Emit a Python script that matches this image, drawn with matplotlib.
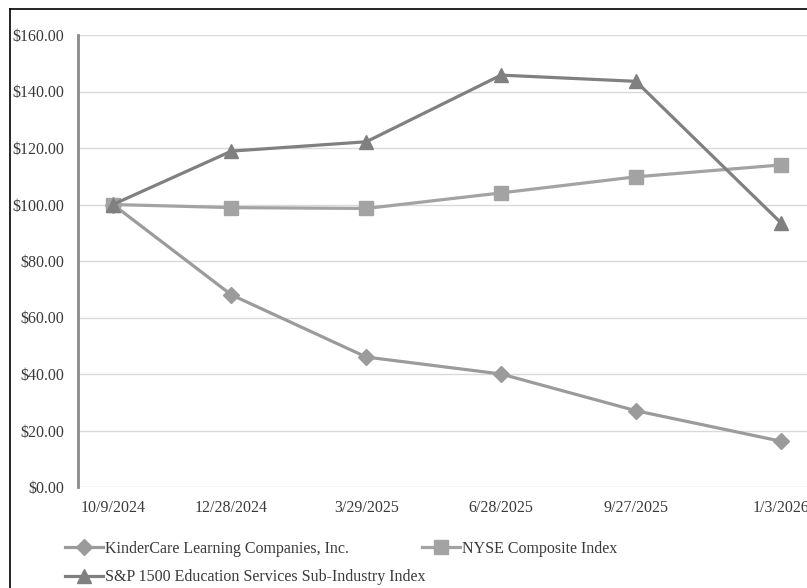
import pandas as pd
import matplotlib.pyplot as plt
from matplotlib.lines import Line2D

plt.rcParams['font.family'] = ['Liberation Serif', 'DejaVu Serif']

dates = ["2024-10-09", "2024-12-28", "2025-03-29", "2025-06-28", "2025-09-27", "2026-01-03"]
date_labels = ["10/9/2024", "12/28/2024", "3/29/2025", "6/28/2025", "9/27/2025", "1/3/2026"]
kindercare = [100.0, 68.0, 46.0, 40.0, 27.0, 16.2]
nyse = [100.0, 98.9, 98.6, 104.1, 109.8, 114.0]
sp1500 = [100.0, 118.9, 122.2, 145.8, 143.6, 93.5]

x = pd.to_datetime(dates)

fig = plt.figure(figsize=(8.07, 5.88), dpi=100)
ax = fig.add_axes([78/807, 101/588, 738/807, 452/588])

txt = "#3a3a3a"
ax.plot(x, kindercare, color="#9b9b9b", lw=2.3, marker="D", ms=8.5, label="KinderCare Learning Companies, Inc.", zorder=3)
ax.plot(x, nyse, color="#a3a3a3", lw=2.3, marker="s", ms=9.5, label="NYSE Composite Index", zorder=3)
ax.plot(x, sp1500, color="#808080", lw=2.3, marker="^", ms=9.5, label="S&P 1500 Education Services Sub-Industry Index", zorder=4)

pad = pd.Timedelta(days=23.6)
ax.set_xlim(x[0] - pad, x[-1] + pad)
ax.set_ylim(0, 160)
ax.set_yticks(range(0, 161, 20))
ax.set_yticklabels(["$%.2f" % v for v in range(0, 161, 20)])
ax.set_xticks(x)
ax.set_xticklabels(date_labels)
ax.tick_params(length=0, labelsize=11.5, colors=txt)
ax.tick_params(axis="y", pad=10)
ax.tick_params(axis="x", pad=9)
ax.grid(axis="y", color="#d9d9d9", lw=1)
ax.set_axisbelow(True)
for s in ["top", "right", "bottom"]:
    ax.spines[s].set_visible(False)
ax.spines["left"].set_color("#8a8a8a")
ax.spines["left"].set_linewidth(2)

h, l = ax.get_legend_handles_labels()
fig.legend([h[0], h[2]], [l[0], l[2]], loc="upper left", bbox_to_anchor=(57/807, 1 - 533/588),
           frameon=False, fontsize=11.5, handlelength=2.4, handletextpad=0.1, labelspacing=0.78,
           labelcolor=txt, borderpad=0)
fig.legend([h[1]], [l[1]], loc="upper left", bbox_to_anchor=(414/807, 1 - 533/588),
           frameon=False, fontsize=11.5, handlelength=2.4, handletextpad=0.1, labelcolor=txt, borderpad=0)

# outer frame (left and top edges visible)
fig.add_artist(Line2D([9.5/807, 9.5/807], [0, 1 - 8.5/588], transform=fig.transFigure, color="black", lw=1.2))
fig.add_artist(Line2D([9.5/807, 1], [1 - 8.5/588, 1 - 8.5/588], transform=fig.transFigure, color="black", lw=1.2))

fig.savefig("out.png", dpi=100)
